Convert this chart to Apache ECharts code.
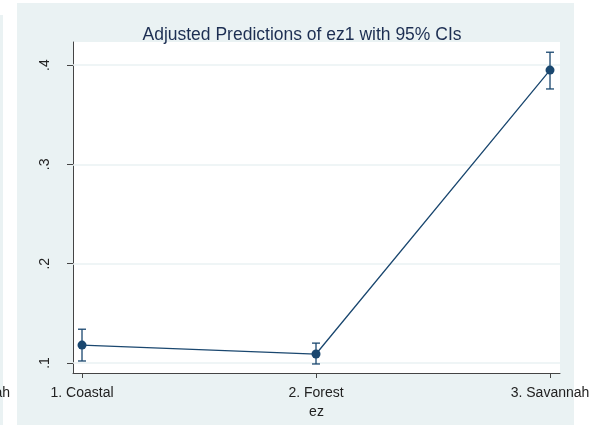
<!DOCTYPE html>
<html>
<head>
<meta charset="utf-8">
<script src="https://cdn.jsdelivr.net/npm/echarts@6/dist/echarts.min.js"></script>
<style>
  html, body { margin: 0; padding: 0; background: #ffffff; }
  #chart { width: 595px; height: 425px; }
</style>
</head>
<body>
<div id="chart"></div>
<script>
// Zone categories and their positions on the x scale
const categories = ['1. Coastal', '2. Forest', '3. Savannah'];
const positions = [1, 2, 3];
// Adjusted predictions (margins) and 95% confidence bounds
const predictions = [0.118, 0.109, 0.395];
const ciLower = [0.102, 0.099, 0.376];
const ciUpper = [0.134, 0.120, 0.413];
// Y tick values and their labels
const yTicks = [0.1, 0.2, 0.3, 0.4];
const yTickLabels = ['.1', '.2', '.3', '.4'];

const navy = '#1a476f';
const ink = '#222222';
const font = 'Liberation Sans, Arial, sans-serif';

const lineData = positions.map((x, i) => [x, predictions[i]]);
const ciData = positions.map((x, i) => [x, ciLower[i], ciUpper[i]]);

const chart = echarts.init(document.getElementById('chart'), null, { renderer: 'canvas' });

chart.setOption({
  backgroundColor: '#ffffff',
  animation: false,
  graphic: [
    // outer graph region
    { type: 'rect', z: -100, shape: { x: 17, y: 3, width: 557, height: 422 }, style: { fill: '#eaf2f3' } },
    // edge of the neighbouring panel
    { type: 'rect', z: -100, shape: { x: 0, y: 15, width: 3, height: 410 }, style: { fill: '#eaf2f3' } },
    { type: 'text', z: -90, x: 10, y: 393, style: { text: '3. Savannah', align: 'right', verticalAlign: 'middle', fill: ink, font: '14px ' + font } }
  ],
  title: {
    text: 'Adjusted Predictions of ez1 with 95% CIs',
    left: 297,
    textAlign: 'center',
    top: 21,
    textStyle: { color: '#1c2e52', fontSize: 17.5, fontWeight: 'normal', fontFamily: font }
  },
  grid: {
    left: 73, right: 35, top: 42, bottom: 52,
    show: true, backgroundColor: '#ffffff', borderWidth: 0
  },
  xAxis: {
    type: 'value',
    min: 0.9615, max: 3.0427,
    name: 'ez', nameLocation: 'middle', nameGap: 27,
    nameTextStyle: { color: ink, fontSize: 14, fontFamily: font },
    axisLine: { show: true, onZero: false, lineStyle: { color: '#444444', width: 1 } },
    axisTick: { show: true, length: 5, customValues: positions, lineStyle: { color: '#444444' } },
    axisLabel: {
      customValues: positions, margin: 13,
      color: ink, fontSize: 14, fontFamily: font,
      formatter: v => categories[positions.indexOf(Math.round(v))] || ''
    },
    splitLine: { show: false }
  },
  yAxis: {
    type: 'value',
    min: 0.0899, max: 0.4233,
    axisLine: { show: true, lineStyle: { color: '#444444', width: 1 } },
    axisTick: { show: true, length: 6, customValues: yTicks, lineStyle: { color: '#444444' } },
    axisLabel: {
      customValues: yTicks, rotate: 90, margin: 21,
      color: ink, fontSize: 14, fontFamily: font,
      formatter: v => yTickLabels[yTicks.findIndex(t => Math.abs(t - v) < 1e-6)] || ''
    },
    splitLine: { show: false }
  },
  series: [
    {
      // horizontal grid lines at the y ticks
      type: 'line', data: [], silent: true, z: 1,
      markLine: {
        z: 1, silent: true, symbol: 'none', label: { show: false },
        lineStyle: { color: '#eaf2f3', width: 1.5, type: 'solid' },
        data: yTicks.map(v => ({ yAxis: v }))
      }
    },
    {
      type: 'line',
      data: lineData,
      symbol: 'circle', symbolSize: 9,
      lineStyle: { color: navy, width: 1.3 },
      itemStyle: { color: navy },
      z: 4
    },
    {
      type: 'custom',
      data: ciData,
      z: 3,
      renderItem: (params, api) => {
        const lo = api.coord([api.value(0), api.value(1)]);
        const hi = api.coord([api.value(0), api.value(2)]);
        const cap = 4;
        const style = { stroke: navy, lineWidth: 1.3, fill: null };
        return {
          type: 'group',
          children: [
            { type: 'line', shape: { x1: lo[0], y1: lo[1], x2: hi[0], y2: hi[1] }, style },
            { type: 'line', shape: { x1: lo[0] - cap, y1: lo[1], x2: lo[0] + cap, y2: lo[1] }, style },
            { type: 'line', shape: { x1: hi[0] - cap, y1: hi[1], x2: hi[0] + cap, y2: hi[1] }, style }
          ]
        };
      }
    }
  ]
});
</script>
</body>
</html>
